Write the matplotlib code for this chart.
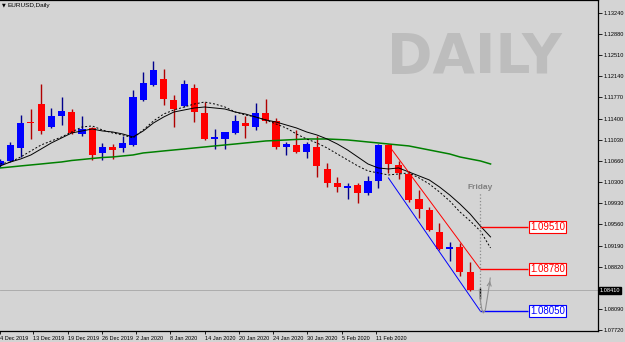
import matplotlib.pyplot as plt
import matplotlib.transforms as mtransforms
import numpy as np

plt.rcParams['font.family'] = ['Liberation Sans', 'DejaVu Sans']

# daily EURUSD candles (last bar = Friday, just opened)
opens = [1.10594, 1.10664, 1.10890, 1.11334, 1.11655, 1.11255, 1.11447, 1.11516, 1.11133, 1.11238,
         1.10803, 1.10907, 1.10890, 1.10942, 1.11725, 1.11987, 1.12091, 1.11725, 1.11621, 1.11934,
         1.11499, 1.11046, 1.11046, 1.11151, 1.11325, 1.11255, 1.11499, 1.11360, 1.10907, 1.10942,
         1.10820, 1.10907, 1.10524, 1.10281, 1.10194, 1.10246, 1.10107, 1.10316, 1.10942, 1.10594,
         1.10437, 1.10002, 1.09811, 1.09428, 1.09131, 1.09166, 1.08731, 1.08410]
highs = [1.10698, 1.10994, 1.11464, 1.11568, 1.12004, 1.11586, 1.11777, 1.11568, 1.11447, 1.11255,
         1.10977, 1.10959, 1.11099, 1.11899, 1.12213, 1.12404, 1.12265, 1.11812, 1.12073, 1.12004,
         1.11690, 1.11220, 1.11168, 1.11464, 1.11447, 1.11673, 1.11742, 1.11412, 1.10994, 1.11203,
         1.10994, 1.11099, 1.10629, 1.10385, 1.10281, 1.10281, 1.10403, 1.10959, 1.10959, 1.10664,
         1.10490, 1.10159, 1.09863, 1.09584, 1.09253, 1.09236, 1.08905, 1.08450]
lows = [1.10559, 1.10646, 1.10733, 1.11046, 1.11133, 1.11238, 1.11290, 1.11133, 1.11099, 1.10681,
        1.10681, 1.10698, 1.10820, 1.10925, 1.11708, 1.11969, 1.11638, 1.11255, 1.11603, 1.11342,
        1.11029, 1.10872, 1.10872, 1.11133, 1.11064, 1.11203, 1.11325, 1.10872, 1.10768, 1.10803,
        1.10716, 1.10385, 1.10211, 1.10124, 1.10002, 1.09933, 1.10072, 1.10194, 1.10455, 1.10350,
        1.09950, 1.09671, 1.09445, 1.09115, 1.08925, 1.08661, 1.08400, 1.08260]
closes = [1.10664, 1.10942, 1.11325, 1.11316, 1.11186, 1.11447, 1.11534, 1.11151, 1.11220, 1.10768,
          1.10907, 1.10855, 1.10977, 1.11777, 1.12021, 1.12247, 1.11742, 1.11568, 1.12004, 1.11516,
          1.11046, 1.11081, 1.11168, 1.11360, 1.11273, 1.11499, 1.11360, 1.10907, 1.10959, 1.10820,
          1.10959, 1.10577, 1.10281, 1.10211, 1.10229, 1.10107, 1.10316, 1.10942, 1.10611, 1.10455,
          1.09985, 1.09829, 1.09463, 1.09131, 1.09166, 1.08731, 1.08418, 1.08410]

# moving averages (one value per bar, one bar past the last candle)
ma_green = [1.10542, 1.10559, 1.10577, 1.10594, 1.10611, 1.10629, 1.10646, 1.10672, 1.10689, 1.10707,
            1.10724, 1.10733, 1.10751, 1.10768, 1.10803, 1.10820, 1.10838, 1.10855, 1.10872, 1.10890,
            1.10907, 1.10925, 1.10942, 1.10959, 1.10977, 1.10994, 1.11012, 1.11020, 1.11029, 1.11038,
            1.11046, 1.11046, 1.11046, 1.11038, 1.11029, 1.11012, 1.10994, 1.10977, 1.10959, 1.10942,
            1.10925, 1.10890, 1.10855, 1.10820, 1.10785, 1.10733, 1.10698, 1.10664, 1.10611]
ma_solid = [1.10577, 1.10646, 1.10698, 1.10768, 1.10872, 1.10977, 1.11064, 1.11151, 1.11186, 1.11220,
            1.11186, 1.11168, 1.11133, 1.11081, 1.11186, 1.11325, 1.11429, 1.11516, 1.11551, 1.11586,
            1.11603, 1.11586, 1.11568, 1.11516, 1.11481, 1.11429, 1.11377, 1.11342, 1.11290, 1.11238,
            1.11168, 1.11116, 1.11046, 1.10959, 1.10855, 1.10733, 1.10611, 1.10542, 1.10524, 1.10542,
            1.10472, 1.10403, 1.10333, 1.10211, 1.10072, 1.09915, 1.09741, 1.09532, 1.09341]
ma_dashed = [1.10611, 1.10646, 1.10733, 1.10838, 1.10942, 1.11012, 1.11081, 1.11168, 1.11255, 1.11273,
             1.11203, 1.11151, 1.11116, 1.11064, 1.11203, 1.11360, 1.11481, 1.11551, 1.11603, 1.11655,
             1.11690, 1.11655, 1.11603, 1.11516, 1.11464, 1.11429, 1.11377, 1.11307, 1.11238, 1.11133,
             1.11046, 1.10977, 1.10890, 1.10785, 1.10681, 1.10577, 1.10490, 1.10455, 1.10420, 1.10437,
             1.10455, 1.10368, 1.10263, 1.10124, 1.09967, 1.09776, 1.09619, 1.09445, 1.09149]

# channel lines and target levels
red_trend_x = [38, 47]
red_trend_y = [1.10942, 1.0878]
blue_trend_x = [38, 47]
blue_trend_y = [1.10368, 1.0805]
levels = [1.0951, 1.0878, 1.0805]
level_labels = ['1.09510', '1.08780', '1.08050']
level_colors = ['#ff0000', '#ff0000', '#0000ff']
current_price = 1.0841

# hand drawn arrow next to the last bar
arrow_x = [46.9, 47.0, 47.14, 47.29, 47.49, 47.68, 47.88, 47.97]
arrow_y = [1.08418, 1.08243, 1.08086, 1.08017, 1.08069, 1.08278, 1.08504, 1.08625]

ytick_vals = [1.13240, 1.12880, 1.12510, 1.12140, 1.11770, 1.11400, 1.11030, 1.10660,
              1.10300, 1.09930, 1.09560, 1.09190, 1.08820, 1.08090, 1.07720]
xtick_labels = ['4 Dec 2019', '13 Dec 2019', '19 Dec 2019', '26 Dec 2019', '2 Jan 2020', '8 Jan 2020',
                '14 Jan 2020', '20 Jan 2020', '24 Jan 2020', '30 Jan 2020', '5 Feb 2020', '11 Feb 2020']
xtick_px = [-1.5, 32, 67, 101, 135, 169, 204, 238, 272, 306, 341, 375]


def bx(px):
    # screen pixel -> bar index
    return (px + 1.24) / 10.24


BG = '#d4d4d4'
fig = plt.figure(figsize=(6.25, 3.42), dpi=100, facecolor=BG)
ax = fig.add_axes([0, 11 / 342, 598 / 625, 331 / 342])
ax.set_facecolor(BG)
ax.set_xlim(bx(0), bx(598))
ax.set_ylim(1.07703, 1.13466)

# watermark
ax.text(474.5 / 625, 1 - 73 / 342, 'DAILY', transform=fig.transFigure, ha='center', va='baseline',
        fontsize=39.5, fontweight='bold', family='DejaVu Sans', color='#bdbdbd', zorder=0.5)

# candles
o = np.array(opens)
c = np.array(closes)
idx = np.arange(len(o))
body_col = np.where(c > o, '#0000ff', np.where(c < o, '#ff0000', '#000000'))
wick_col = np.where(c > o, '#00008c', np.where(c < o, '#b00000', '#000000'))
ax.axhline(current_price, color='#a6a6a6', lw=0.6, zorder=1)
ax.vlines(idx, lows, highs, colors=wick_col, lw=1, zorder=2)
ax.bar(idx, np.maximum(np.abs(c - o), 0.00012), bottom=np.minimum(o, c), width=0.7,
       color=body_col, linewidth=0, zorder=3)

# moving averages
mi = np.arange(len(ma_green))
ax.plot(mi, ma_green, color='#008000', lw=1.1, zorder=4)
ax.plot(mi, ma_solid, color='#000000', lw=0.7, zorder=4)
ax.plot(mi, ma_dashed, color='#000000', lw=0.7, ls=(0, (2, 2)), zorder=4)

# channel + levels
ax.plot(red_trend_x, red_trend_y, color='#ff0000', lw=0.7, zorder=5)
ax.plot(blue_trend_x, blue_trend_y, color='#0000ff', lw=0.7, zorder=5)
ax.hlines(levels, 47, bx(528), colors=level_colors, lw=1, zorder=5)
for lv, lab, col in zip(levels, level_labels, level_colors):
    ax.text(bx(547.5), lv, lab, ha='center', va='center', fontsize=7, color=col, zorder=6,
            bbox=dict(boxstyle='square,pad=0.12', fc='white', ec=col, lw=0.8))

ax.vlines(47, 1.0805, 1.1010, colors='#8c8c8c', linestyles=':', lw=0.9, zorder=5)
ax.text(47, 1.1021, 'Friday', ha='center', va='center', fontsize=6, fontweight='bold',
        color='#808080', zorder=6)

ax.plot(arrow_x, arrow_y, color='#909090', lw=0.8, zorder=5)
ax.annotate('', xy=(arrow_x[-1], arrow_y[-1]), xytext=(arrow_x[-2], arrow_y[-2]),
            arrowprops=dict(arrowstyle='->', color='#909090', lw=0.8, mutation_scale=7), zorder=5)

# axes styling
ax.spines['left'].set_visible(False)
for s in ['right', 'bottom', 'top']:
    ax.spines[s].set_color('black')
    ax.spines[s].set_linewidth(0.9)

ax.yaxis.tick_right()
ax.set_yticks(ytick_vals)
ax.set_yticklabels(['%.5f' % v for v in ytick_vals])
ax.tick_params(axis='y', direction='out', length=3, width=0.6, labelsize=4.1, pad=1)
ax.set_xticks([bx(p) for p in xtick_px])
ax.set_xticklabels(xtick_labels, ha='left')
ax.tick_params(axis='x', direction='out', length=2, width=0.6, labelsize=4.0, pad=1.5)

tr = mtransforms.blended_transform_factory(ax.transAxes, ax.transData)
ax.text(1.003, current_price, '1.08410', transform=tr, ha='left', va='center', fontsize=4.1,
        color='white', zorder=7, clip_on=False,
        bbox=dict(boxstyle='square,pad=0.15', fc='black', ec='black'))

fig.text(1.5 / 625, 1 - 5 / 342, '\u25bc', fontsize=3.5, va='center', family='DejaVu Sans')
fig.text(8 / 625, 1 - 5 / 342, 'EURUSD,Daily', fontsize=4.6, va='center')

fig.savefig('out.png', dpi=100, facecolor=BG)
